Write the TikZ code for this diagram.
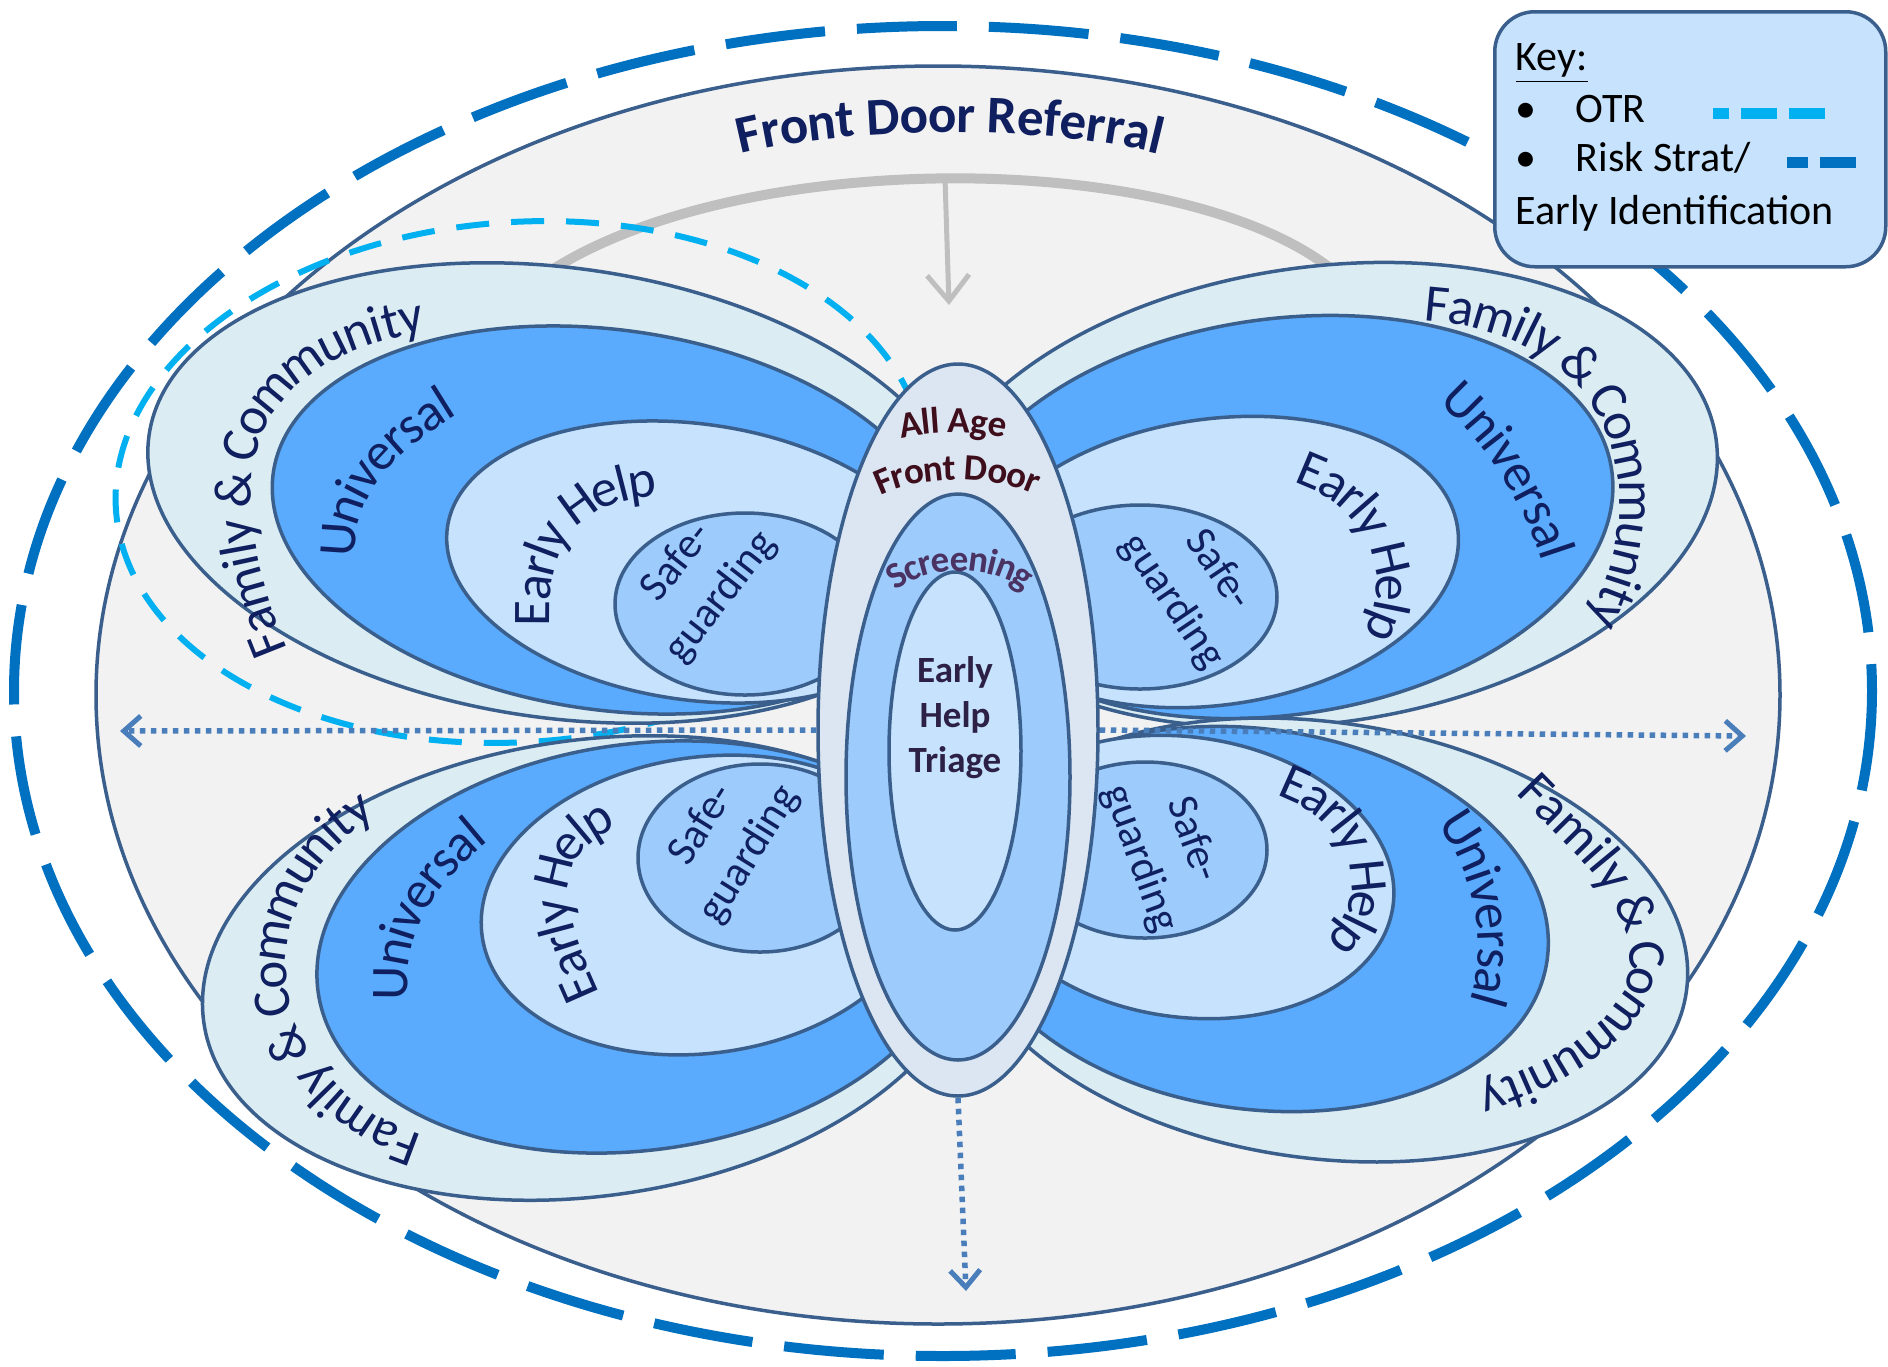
\documentclass[tikz,border=0pt]{standalone}
\usepackage{fontspec}
\setmainfont{Carlito}
\usepackage{tikz}
\usetikzlibrary{shapes.geometric, arrows.meta, decorations.text, positioning}

\definecolor{ink}{HTML}{0F1F5F}
\definecolor{edge}{HTML}{3A5F8D}
\definecolor{bggray}{HTML}{F2F2F2}
\definecolor{fcfill}{HTML}{DBEDF3}
\definecolor{unifill}{HTML}{5AABFE}
\definecolor{ehfill}{HTML}{C6E2FC}
\definecolor{sgfill}{HTML}{9CCBFC}
\definecolor{doorfill}{HTML}{DCE6F2}
\definecolor{otrblue}{HTML}{00B0F0}
\definecolor{riskblue}{HTML}{0070C0}
\definecolor{arcgray}{HTML}{BFBFBF}
\definecolor{dotblue}{HTML}{4A7EBB}
\definecolor{doorred}{HTML}{3E0E1C}
\definecolor{screenpurple}{HTML}{4A3262}
\definecolor{triagetext}{HTML}{2C2046}

\newcommand{\bandfont}{\fontsize{5.3mm}{6.2mm}\selectfont\color{ink}}
\newcommand{\safefont}{\fontsize{4.3mm}{5.6mm}\selectfont}
\newcommand{\doorfont}{\fontsize{3.7mm}{4.5mm}\selectfont\bfseries}
\newcommand{\referralfont}{\fontsize{5.3mm}{6.2mm}\selectfont\bfseries\color{ink}}
\newcommand{\keyfont}{\fontsize{4.2mm}{5mm}\selectfont}

\begin{document}
\begin{tikzpicture}[x=0.1mm, y=-0.1mm,
		lobe/.style={draw=edge, line width=0.35mm, fill=#1},
		ring/.style={ellipse, draw=edge, line width=0.35mm, inner sep=0pt, fill=#1},
		bandtext/.style={decorate, decoration={text along path, text align=left, raise=-1.6mm, text={|\bandfont|#1}}},
		doortext/.style 2 args={decorate, decoration={text along path, text align=center, raise=-1.1mm, text={|\doorfont\color{#1}|#2}}},
		safenode/.style={font=\safefont, text=ink, align=center, inner sep=0pt},
		spread/.style={draw=dotblue, line width=0.55mm, dash pattern=on 0.55mm off 0.55mm, -{Straight Barb[length=1.7mm, width=3mm, line width=0.5mm]}},
		keytext/.style={inner sep=0pt, font=\keyfont, anchor=base west}
		]
		\useasboundingbox (0,0) rectangle (1888,1366);
		\fill[white] (0,0) rectangle (1888,1366);
		
		% outer ring and background
		\draw[draw=riskblue, line width=1mm, dash pattern=on 10mm off 3.2mm] (943,691) ellipse [x radius=929, y radius=665];
		\draw[draw=edge, fill=bggray, line width=0.35mm] (938,695) ellipse [x radius=842, y radius=629];
		
		% referral arc
		\coordinate (arcwest) at (530,285);
		\coordinate (arceast) at (1335,272);
		\coordinate (arctop) at (945,178);
		\coordinate (arctip) at (949,305);
		\draw[draw=arcgray, line width=1mm] (arcwest) .. controls (715,145) and (1180,145) .. (arceast);
		\draw[draw=arcgray, line width=0.5mm, -{Straight Barb[length=2.6mm, width=4.2mm]}] (arctop) -- (arctip);
		\path[decorate, decoration={text along path, text align=center, raise=-1.6mm, text={|\referralfont|Front Door Referral}}]
			(700,150) .. controls (820,105) and (1080,105) .. (1200,150);
		
		% OTR ring
		\draw[draw=otrblue, line width=0.6mm, dash pattern=on 3.3mm off 2.2mm, rotate around={4:(520,482)}] (520,482) ellipse [x radius=405, y radius=260];
		
		% draw the four wings
		\foreach \cx/\cy/\rx/\ry/\tilt/\shade in {
			560/493/415/225/-8/fcfill, 610/520/340/190/-8/unifill, 695/562/250/138/-8/ehfill, 745/604/130/91/0/sgfill,
			1320/495/400/228/8/fcfill, 1280/517/335/198/8/unifill, 1215/562/245/143/8/ehfill, 1140/597/137/92/0/sgfill,
			590/968/390/228/8/fcfill, 640/947/325/203/8/unifill, 705/905/225/148/8/ehfill, 760/858/122/94/0/sgfill,
			1320/940/370/218/-8/fcfill, 1255/919/295/190/-8/unifill, 1185/877/210/140/-8/ehfill, 1145/850/122/88/0/sgfill}
		\draw[lobe=\shade, rotate around={\tilt:(\cx,\cy)}] (\cx,\cy) ellipse [x radius=\rx, y radius=\ry];
		
		% upper left labels
		\path[bandtext={Family {\&} Community}] (273,655) .. controls (200,480) and (215,330) .. (480,308);
		\path[bandtext={Universal}] (340,556) .. controls (335,470) and (410,420) .. (500,372);
		\path[bandtext={Early Help}] (534,626) .. controls (530,520) and (580,478) .. (690,478);
		\node[safenode, rotate=52] (safeUL) at (699,580) {Safe-\\guarding};
		
		% upper right labels
		\path[bandtext={Family {\&} Community}] (1425,305) .. controls (1630,318) and (1685,495) .. (1590,650);
		\path[bandtext={Universal}] (1450,390) .. controls (1510,445) and (1555,520) .. (1570,610);
		\path[bandtext={Early Help}] (1300,467) .. controls (1400,500) and (1420,610) .. (1355,670);
		\node[safenode, rotate=-56] (safeUR) at (1195,586) {Safe-\\guarding};
		
		% lower left labels
		\path[bandtext={Family {\&} Community}] (417,1150) .. controls (230,1090) and (215,860) .. (410,780);
		\path[bandtext={Universal}] (392,1000) .. controls (385,910) and (440,855) .. (510,805);
		\path[bandtext={Early Help}] (585,1000) .. controls (530,880) and (540,835) .. (650,795);
		\node[safenode, rotate=58] (safeLL) at (726,840) {Safe-\\guarding};
		
		% lower right labels
		\path[bandtext={Family {\&} Community}] (1527,782) .. controls (1577,835) and (1640,880) .. (1646,956) .. controls (1652,1015) and (1580,1080) .. (1440,1115);
		\path[bandtext={Universal}] (1450,815) .. controls (1500,880) and (1515,990) .. (1455,1060);
		\path[bandtext={Early Help}] (1283,780) .. controls (1372,810) and (1407,920) .. (1305,975);
		\node[safenode, rotate=-70] (safeLR) at (1166,849) {Safe-\\guarding};
		
		% front door body
		\node[ring=doorfill, minimum width=28mm, minimum height=73.2mm] (frontdoor) at (958,730) {};
		\node[ring=sgfill, minimum width=22.4mm, minimum height=56.6mm] (screening) at (958,777) {};
		\node[ring=ehfill, minimum width=13.2mm, minimum height=35.8mm] (triage) at (955,751) {};
		
		% spreading arrows
		\coordinate (westend) at (120,731);
		\coordinate (eastend) at (1746,736);
		\coordinate (southend) at (966,1291);
		\draw[spread] (frontdoor.west) -- (westend);
		\draw[spread] (frontdoor.east) -- (eastend);
		\draw[spread] (frontdoor.south) -- (southend);
		
		\path[doortext={doorred}{All Age}] (880,433) .. controls (925,418) and (981,418) .. (1026,433);
		\path[doortext={doorred}{Front Door}] (860,496) .. controls (905,460) and (1010,460) .. (1055,494);
		\path[doortext={screenpurple}{Screening}] (870,605) .. controls (900,545) and (1020,545) .. (1050,605);
		\node[font=\doorfont, text=triagetext, align=center, inner sep=0pt] (triagelabel) at (955,718) {Early\\Help\\Triage};
		
		% key
		\node[draw=edge, fill=ehfill, line width=0.35mm, rounded corners=4mm, minimum width=39.1mm, minimum height=25.5mm, anchor=north west, inner sep=0pt] (key) at (1493,10) {};
		\node[keytext] (keytitle) at (1515,70) {\underline{Key:}};
		\foreach \row/\y in {1/122, 2/171}
		\node[keytext] (bullet\row) at (1515,\y) {\textbullet};
		\node[keytext] (otrlabel) at (1575,122) {OTR};
		\node[keytext] (risklabel) at (1575,171) {Risk Strat/};
		\node[keytext] (earlylabel) at (1515,224) {Early Identification};
		\coordinate (otrA) at (1713,113);
		\coordinate (otrB) at (1826,113);
		\coordinate (riskA) at (1787,162);
		\coordinate (riskB) at (1857,162);
		\draw[draw=otrblue, line width=1.1mm, dash pattern=on 3.6mm off 1.2mm, dash phase=2mm] (otrA) -- (otrB);
		\draw[draw=riskblue, line width=1.1mm, dash pattern=on 3.6mm off 1.2mm, dash phase=1.5mm] (riskA) -- (riskB);
\end{tikzpicture}
\end{document}
